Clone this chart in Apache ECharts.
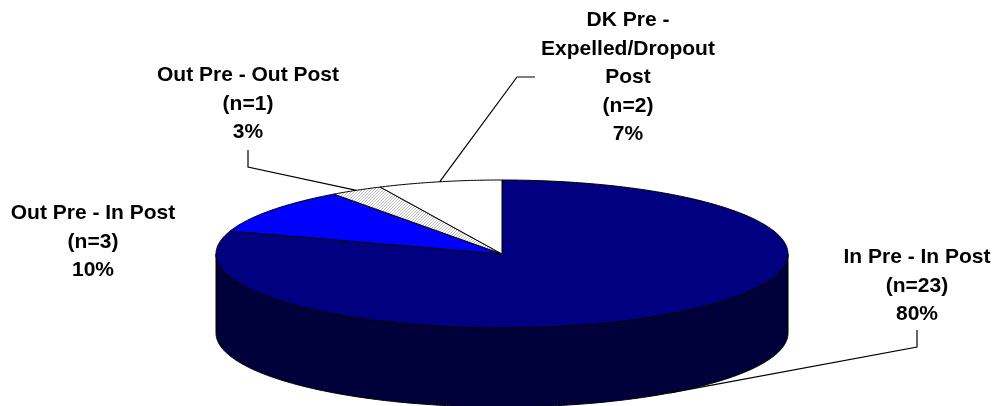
<!DOCTYPE html>
<html>
<head>
<meta charset="utf-8">
<script src="https://cdn.jsdelivr.net/npm/echarts@6/dist/echarts.min.js"></script>
<style>
  html, body { margin: 0; padding: 0; background: #fff; }
  #chart { width: 995px; height: 406px; }
</style>
</head>
<body>
<div id="chart"></div>
<script>
// slice data, clockwise from 12 o'clock
const categories = ['In Pre - In Post', 'Out Pre - In Post', 'Out Pre - Out Post', 'DK Pre - Expelled/Dropout Post'];
const labelNames = [['In Pre - In Post'], ['Out Pre - In Post'], ['Out Pre - Out Post'], ['DK Pre -', 'Expelled/Dropout', 'Post']];
const counts = [23, 3, 1, 2];
const percents = [80, 10, 3, 7];

// hatch pattern for the small slice
const hatch = document.createElement('canvas');
hatch.width = 3;
hatch.height = 3;
(function () {
  const c = hatch.getContext('2d');
  c.fillStyle = '#ffffff';
  c.fillRect(0, 0, 3, 3);
  c.fillStyle = '#bdbdbd';
  // one-pixel diagonal
  c.fillRect(0, 2, 1, 1);
  c.fillRect(1, 1, 1, 1);
  c.fillRect(2, 0, 1, 1);
})();

const topColors = ['#000080', '#0000ff', { image: hatch, repeat: 'repeat' }, '#ffffff'];
const sideColors = ['#00003a', '#000080', '#c0c0c0', '#d0d0d0'];

// pie geometry
const pie = { cx: 502, cy: 254, rx: 286, ry: 74, depth: 79 };

// where each label sits (centre x, top y) and its leader bends
const labelPos = [[917, 243], [93, 199], [248, 61], [628, 6]];
const leaderBends = [[[917, 330], [917, 347]], null, [[248, 150], [248, 167]], [[535, 77], [517, 77]]];

const total = percents.reduce((a, b) => a + b, 0);

function pt(t, dy) {
  return [pie.cx + pie.rx * Math.cos(t), pie.cy + pie.ry * Math.sin(t) + (dy || 0)];
}

function arc(a, b, dy) {
  const pts = [];
  const n = Math.max(2, Math.ceil((b - a) / 0.01));
  for (let i = 0; i <= n; i++) pts.push(pt(a + (b - a) * i / n, dy));
  return pts;
}

function renderItem(params, api) {
  const i = params.dataIndex;
  let before = 0;
  for (let k = 0; k < i; k++) before += percents[k];
  const a = -Math.PI / 2 + (before / total) * Math.PI * 2;
  const b = a + (api.value(0) / total) * Math.PI * 2;
  const children = [];

  // visible side wall (front half: angles 0..PI)
  const ranges = [[0, Math.PI], [Math.PI * 2, Math.PI * 3]];
  ranges.forEach(function (r) {
    const s = Math.max(a, r[0]);
    const e = Math.min(b, r[1]);
    if (e > s) {
      const pts = arc(s, e, 0).concat(arc(s, e, pie.depth).reverse());
      children.push({
        type: 'polygon',
        shape: { points: pts },
        style: { fill: sideColors[i], stroke: '#000', lineWidth: 1 }
      });
    }
  });

  // top face
  children.push({
    type: 'polygon',
    shape: { points: [[pie.cx, pie.cy]].concat(arc(a, b, 0)) },
    style: { fill: topColors[i], stroke: '#000', lineWidth: 1, lineJoin: 'round' }
  });

  // leader line
  if (leaderBends[i]) {
    const m = (a + b) / 2;
    const front = Math.sin(m) > 0;
    const end = pt(m, front ? pie.depth : 0);
    children.push({
      type: 'polyline',
      shape: { points: leaderBends[i].concat([end]) },
      style: { stroke: '#000', lineWidth: 1.2, fill: null }
    });
  }

  // label
  const lines = labelNames[i].concat(['(n=' + counts[i] + ')', percents[i] + '%']);
  children.push({
    type: 'text',
    style: {
      text: lines.join('\n'),
      x: labelPos[i][0],
      y: labelPos[i][1],
      align: 'center',
      verticalAlign: 'top',
      lineHeight: 28.5,
      fill: '#000',
      font: 'bold 21px "Liberation Sans", Arial, sans-serif'
    }
  });

  return { type: 'group', children: children };
}

const chart = echarts.init(document.getElementById('chart'));
chart.setOption({
  animation: false,
  backgroundColor: '#ffffff',
  series: [
    {
      type: 'custom',
      coordinateSystem: 'none',
      renderItem: renderItem,
      data: percents.map(function (v, i) {
        return { name: categories[i], value: [v, counts[i]] };
      })
    }
  ]
});
</script>
</body>
</html>
